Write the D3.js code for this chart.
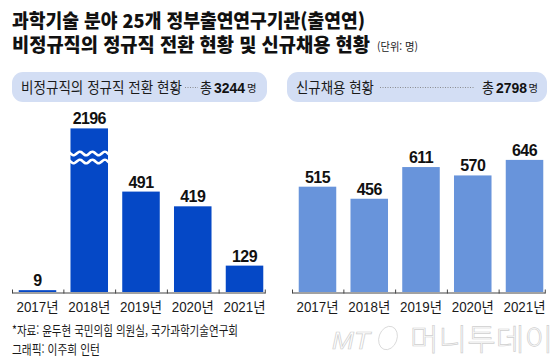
<!DOCTYPE html>
<html lang="ko">
<head>
<meta charset="UTF-8">
<script src="https://cdn.jsdelivr.net/npm/d3@7"></script>
<title>출연연 비정규직 정규직 전환 및 신규채용</title>
<style>
  html, body { margin: 0; padding: 0; background: #fff; }
  svg { display: block; }
</style>
</head>
<body>
<div id="chart"></div>
<script>
    // data
    const years = ["2017년", "2018년", "2019년", "2020년", "2021년"];
    const conversion = [9, 2196, 491, 419, 129];
    const hires = [515, 456, 611, 570, 646];
    const totals = [3244, 2798];
    const panelTitles = ["비정규직의 정규직 전환 현황", "신규채용 현황"];

    const width = 560, height = 364;
    const baseY = 292;
    const CAP = 800;   // bars above this get drawn cut with the wave mark

    const KR = "'Noto Sans CJK KR', sans-serif";
    const NUM = "'Liberation Sans', Arial, 'Noto Sans CJK KR', sans-serif";

    const svg = d3.select("#chart").append("svg")
        .attr("width", width)
        .attr("height", height);

    function txt(g, x, y, s, o) {
        const t = g.append("text")
            .attr("x", x).attr("y", y)
            .attr("font-family", o.family || KR)
            .attr("font-size", o.size)
            .attr("font-weight", o.weight || "normal")
            .attr("fill", o.fill || "#111")
            .attr("text-anchor", o.anchor || "start")
            .text(s);
        if (o.len) t.attr("textLength", o.len).attr("lengthAdjust", "spacingAndGlyphs");
        return t;
    }

    // title
    txt(svg, 12, 28, "과학기술 분야 25개 정부출연연구기관(출연연)", {size: 19, weight: 900, len: 353});
    txt(svg, 12, 52, "비정규직의 정규직 전환 현황 및 신규채용 현황", {size: 19, weight: 900, len: 358});
    txt(svg, 377, 51, "(단위: 명)", {size: 11, fill: "#222", len: 41});

    const y = d3.scaleLinear().domain([0, CAP]).range([baseY, baseY - 163.6]);

    const panels = [
        {x0: 12, x1: 270, pill: [12, 267], values: conversion, color: "#0548c6",
         title: panelTitles[0], titleLen: 161, dots: [185, 198], total: totals[0],
         totalX: [200, 214, 247]},
        {x0: 292, x1: 550, pill: [287, 547], values: hires, color: "#6894db",
         title: panelTitles[1], titleLen: 78, dots: [380, 474], total: totals[1],
         totalX: [482, 496, 528.5]}
    ];

    panels.forEach(p => {
        const g = svg.append("g");

        // header pill
        g.append("rect")
            .attr("x", p.pill[0]).attr("y", 72)
            .attr("width", p.pill[1] - p.pill[0]).attr("height", 30)
            .attr("rx", 11)
            .attr("fill", "#d3def4");
        txt(g, p.pill[0] + 9, 93, p.title, {size: 15, fill: "#1a1a1a", len: p.titleLen});
        g.append("line")
            .attr("x1", p.dots[0]).attr("x2", p.dots[1])
            .attr("y1", 87.5).attr("y2", 87.5)
            .attr("stroke", "#777").attr("stroke-width", 0.8)
            .attr("stroke-dasharray", "1 1.5");
        txt(g, p.totalX[0], 93, "총", {size: 15, fill: "#1a1a1a", len: 12});
        txt(g, p.totalX[1], 93, p.total, {size: 15, weight: "bold", family: NUM, fill: "#111", len: 31});
        txt(g, p.totalX[2], 92, "명", {size: 10, fill: "#1a1a1a", len: 9.5});

        const x = d3.scaleBand()
            .domain(years)
            .range([p.x0, p.x1])
            .paddingInner(0.275)
            .paddingOuter(0.13);
        const gap = x.step() - x.bandwidth();

        // bars
        g.selectAll("rect.bar")
            .data(p.values)
            .join("rect")
            .attr("class", "bar")
            .attr("x", (d, i) => x(years[i]))
            .attr("y", d => y(Math.min(d, CAP)))
            .attr("width", x.bandwidth())
            .attr("height", d => baseY - y(Math.min(d, CAP)))
            .attr("fill", p.color);

        // wave break on bars that go past the cap
        const wave = d3.line().curve(d3.curveBasis);
        p.values.forEach((d, i) => {
            if (d <= CAP) return;
            const bx = x(years[i]), bw = x.bandwidth();
            [153.5, 161.5].forEach(cy => {
                const pts = d3.range(0, 25).map(k => {
                    const xx = bx - 1 + k * (bw + 2) / 24;
                    return [xx, cy + 2 * Math.sin((xx - bx) / 12.5 * 2 * Math.PI)];
                });
                g.append("path")
                    .attr("d", wave(pts))
                    .attr("fill", "none")
                    .attr("stroke", "#fff")
                    .attr("stroke-width", 2.6);
            });
        });

        // value labels
        g.selectAll("text.val")
            .data(p.values)
            .join("text")
            .attr("class", "val")
            .attr("x", (d, i) => x(years[i]) + x.bandwidth() / 2)
            .attr("y", d => y(Math.min(d, CAP)) - 4)
            .attr("text-anchor", "middle")
            .attr("font-family", NUM)
            .attr("font-weight", "bold")
            .attr("font-size", 16)
            .attr("letter-spacing", -0.6)
            .attr("fill", "#111")
            .text(d => d);

        // axis with ticks between bars
        const bounds = [p.x0].concat(years.slice(1).map(yr => x(yr) - gap / 2))
            .concat([x(years[years.length - 1]) + x.bandwidth() + 1.5]);
        const axis = d3.axisTop(d3.scaleIdentity().domain([bounds[0], bounds[bounds.length - 1]]))
            .tickValues(bounds)
            .tickSize(4)
            .tickSizeOuter(0)
            .tickFormat("");
        const ag = g.append("g")
            .attr("transform", `translate(0, ${baseY + 0.5})`)
            .call(axis);
        ag.selectAll("path, line").attr("stroke", "#444");
        ag.selectAll(".tick line").attr("transform", "translate(0, 1)");

        // year labels
        years.forEach(yr => {
            txt(g, x(yr) + x.bandwidth() / 2, 312, yr, {size: 14, family: NUM, fill: "#1a1a1a", anchor: "middle", len: 42});
        });
    });

    // footer
    txt(svg, 12, 335, "*자료: 윤두현 국민의힘 의원실, 국가과학기술연구회", {size: 13, fill: "#1a1a1a", len: 226});
    txt(svg, 12, 354, "그래픽: 이주희 인턴", {size: 13, fill: "#1a1a1a", len: 88});

    // logo
    const logo = svg.append("g").attr("fill", "none").attr("stroke", "#cfcfcf").attr("stroke-width", 0.7);
    txt(logo, 332, 349, "MT", {size: 24, family: NUM, len: 38}).attr("font-style", "italic").attr("fill", "none");
    logo.append("ellipse")
        .attr("cx", 388).attr("cy", 338).attr("rx", 9).attr("ry", 12)
        .attr("transform", "rotate(20 388 338)");
    txt(logo, 410, 350, "머니투데이", {size: 30, weight: "300", len: 143}).attr("fill", "none");
</script>
</body>
</html>
